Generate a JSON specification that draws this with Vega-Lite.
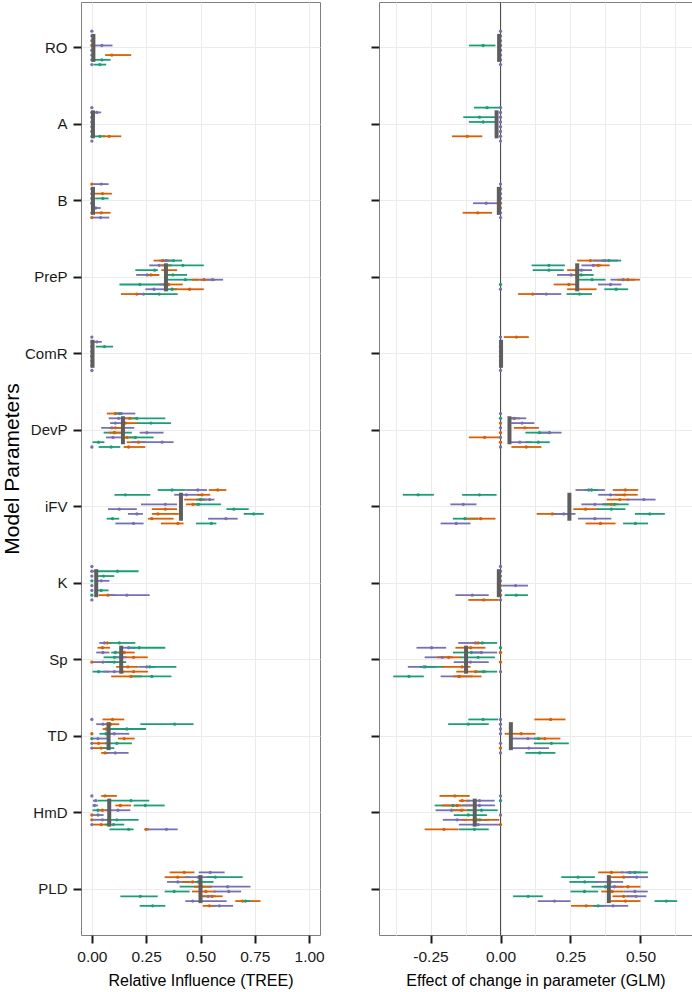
{
"$schema": "https://vega.github.io/schema/vega-lite/v6.json",
"background": "white",
"padding": {"left": 0, "top": 1, "right": 0, "bottom": 0},
"bounds": "flush",
"spacing": 59,
"config": {
 "font": "Liberation Sans",
 "view": {"stroke": "#7f7f7f", "strokeWidth": 1},
 "axis": {"labelFont": "Liberation Sans", "titleFont": "Liberation Sans", "labelFontSize": 15.5, "titleFontSize": 16, "titleFontWeight": "normal", "labelColor": "#1a1a1a", "titleColor": "#000000", "tickColor": "#1a1a1a", "tickWidth": 2, "tickSize": 8, "domain": false, "gridColor": "#ebebeb", "gridWidth": 1, "labelOverlap": false}
},
"datasets": {
"tree": [
{"param":"RO","rep":1,"grp":"P","est":0,"lo":0,"hi":0},
{"param":"RO","rep":2,"grp":"P","est":0,"lo":0,"hi":0},
{"param":"RO","rep":3,"grp":"P","est":0,"lo":0,"hi":0},
{"param":"RO","rep":4,"grp":"O","est":0,"lo":0,"hi":0},
{"param":"RO","rep":4,"grp":"P","est":0.046,"lo":0,"hi":0.095},
{"param":"RO","rep":5,"grp":"P","est":0,"lo":0,"hi":0},
{"param":"RO","rep":6,"grp":"O","est":0.092,"lo":0.061,"hi":0.181},
{"param":"RO","rep":6,"grp":"P","est":0,"lo":0,"hi":0},
{"param":"RO","rep":7,"grp":"G","est":0.046,"lo":0.003,"hi":0.086},
{"param":"RO","rep":7,"grp":"P","est":0,"lo":0,"hi":0},
{"param":"RO","rep":8,"grp":"G","est":0.037,"lo":0.008,"hi":0.066},
{"param":"RO","rep":8,"grp":"P","est":0,"lo":0,"hi":0},
{"param":"A","rep":1,"grp":"P","est":0,"lo":0,"hi":0},
{"param":"A","rep":2,"grp":"O","est":0,"lo":0,"hi":0},
{"param":"A","rep":2,"grp":"P","est":0.023,"lo":0.008,"hi":0.043},
{"param":"A","rep":3,"grp":"P","est":0,"lo":0,"hi":0},
{"param":"A","rep":4,"grp":"P","est":0,"lo":0,"hi":0},
{"param":"A","rep":5,"grp":"P","est":0,"lo":0,"hi":0},
{"param":"A","rep":6,"grp":"P","est":0,"lo":0,"hi":0},
{"param":"A","rep":7,"grp":"G","est":0.037,"lo":0.012,"hi":0.061},
{"param":"A","rep":7,"grp":"O","est":0.08,"lo":0.046,"hi":0.135},
{"param":"A","rep":7,"grp":"P","est":0,"lo":0,"hi":0},
{"param":"A","rep":8,"grp":"P","est":0,"lo":0,"hi":0},
{"param":"B","rep":1,"grp":"O","est":0,"lo":0,"hi":0},
{"param":"B","rep":1,"grp":"P","est":0.043,"lo":0,"hi":0.077},
{"param":"B","rep":2,"grp":"P","est":0,"lo":0,"hi":0},
{"param":"B","rep":3,"grp":"O","est":0.049,"lo":0.008,"hi":0.092},
{"param":"B","rep":3,"grp":"P","est":0,"lo":0,"hi":0},
{"param":"B","rep":4,"grp":"G","est":0.051,"lo":0.015,"hi":0.077},
{"param":"B","rep":4,"grp":"P","est":0,"lo":0,"hi":0},
{"param":"B","rep":5,"grp":"P","est":0,"lo":0,"hi":0},
{"param":"B","rep":6,"grp":"P","est":0.018,"lo":0.003,"hi":0.041},
{"param":"B","rep":7,"grp":"O","est":0.043,"lo":0.008,"hi":0.086},
{"param":"B","rep":7,"grp":"P","est":0,"lo":0,"hi":0},
{"param":"B","rep":8,"grp":"O","est":0,"lo":0,"hi":0},
{"param":"B","rep":8,"grp":"P","est":0.04,"lo":0.003,"hi":0.08},
{"param":"PreP","rep":1,"grp":"O","est":0.326,"lo":0.284,"hi":0.353},
{"param":"PreP","rep":1,"grp":"P","est":0.341,"lo":0.31,"hi":0.369},
{"param":"PreP","rep":1,"grp":"G","est":0.376,"lo":0.341,"hi":0.415},
{"param":"PreP","rep":2,"grp":"P","est":0.31,"lo":0.264,"hi":0.369},
{"param":"PreP","rep":2,"grp":"O","est":0.341,"lo":0.32,"hi":0.36},
{"param":"PreP","rep":2,"grp":"G","est":0.419,"lo":0.353,"hi":0.515},
{"param":"PreP","rep":3,"grp":"G","est":0.289,"lo":0.2,"hi":0.304},
{"param":"PreP","rep":3,"grp":"O","est":0.341,"lo":0.32,"hi":0.392},
{"param":"PreP","rep":4,"grp":"P","est":0.255,"lo":0.204,"hi":0.31},
{"param":"PreP","rep":4,"grp":"O","est":0.272,"lo":0.253,"hi":0.31},
{"param":"PreP","rep":4,"grp":"G","est":0.373,"lo":0.341,"hi":0.438},
{"param":"PreP","rep":5,"grp":"G","est":0.43,"lo":0.346,"hi":0.492},
{"param":"PreP","rep":5,"grp":"O","est":0.516,"lo":0.461,"hi":0.568},
{"param":"PreP","rep":5,"grp":"P","est":0.555,"lo":0.499,"hi":0.604},
{"param":"PreP","rep":6,"grp":"G","est":0.221,"lo":0.127,"hi":0.338},
{"param":"PreP","rep":6,"grp":"P","est":0.335,"lo":0.31,"hi":0.36},
{"param":"PreP","rep":6,"grp":"O","est":0.353,"lo":0.338,"hi":0.418},
{"param":"PreP","rep":7,"grp":"P","est":0.286,"lo":0.246,"hi":0.353},
{"param":"PreP","rep":7,"grp":"G","est":0.369,"lo":0.338,"hi":0.392},
{"param":"PreP","rep":7,"grp":"O","est":0.45,"lo":0.369,"hi":0.515},
{"param":"PreP","rep":8,"grp":"O","est":0.207,"lo":0.134,"hi":0.238},
{"param":"PreP","rep":8,"grp":"P","est":0.238,"lo":0.207,"hi":0.31},
{"param":"PreP","rep":8,"grp":"G","est":0.31,"lo":0.238,"hi":0.395},
{"param":"ComR","rep":1,"grp":"P","est":0,"lo":0,"hi":0},
{"param":"ComR","rep":2,"grp":"O","est":0,"lo":0,"hi":0},
{"param":"ComR","rep":2,"grp":"P","est":0.023,"lo":0.005,"hi":0.046},
{"param":"ComR","rep":3,"grp":"G","est":0.058,"lo":0.018,"hi":0.097},
{"param":"ComR","rep":3,"grp":"P","est":0,"lo":0,"hi":0},
{"param":"ComR","rep":4,"grp":"P","est":0,"lo":0,"hi":0},
{"param":"ComR","rep":5,"grp":"P","est":0,"lo":0,"hi":0},
{"param":"ComR","rep":6,"grp":"P","est":0,"lo":0,"hi":0},
{"param":"ComR","rep":7,"grp":"P","est":0,"lo":0,"hi":0},
{"param":"ComR","rep":8,"grp":"P","est":0,"lo":0,"hi":0},
{"param":"DevP","rep":1,"grp":"O","est":0.108,"lo":0.069,"hi":0.123},
{"param":"DevP","rep":1,"grp":"G","est":0.127,"lo":0.108,"hi":0.138},
{"param":"DevP","rep":1,"grp":"P","est":0.135,"lo":0.108,"hi":0.2},
{"param":"DevP","rep":2,"grp":"P","est":0.123,"lo":0.077,"hi":0.17},
{"param":"DevP","rep":2,"grp":"O","est":0.174,"lo":0.154,"hi":0.207},
{"param":"DevP","rep":2,"grp":"G","est":0.207,"lo":0.169,"hi":0.338},
{"param":"DevP","rep":3,"grp":"P","est":0.108,"lo":0.084,"hi":0.161},
{"param":"DevP","rep":3,"grp":"O","est":0.154,"lo":0.138,"hi":0.21},
{"param":"DevP","rep":3,"grp":"G","est":0.272,"lo":0.207,"hi":0.364},
{"param":"DevP","rep":4,"grp":"P","est":0.092,"lo":0.043,"hi":0.195},
{"param":"DevP","rep":4,"grp":"O","est":0.108,"lo":0.08,"hi":0.138},
{"param":"DevP","rep":5,"grp":"G","est":0.103,"lo":0.054,"hi":0.184},
{"param":"DevP","rep":5,"grp":"O","est":0.104,"lo":0.077,"hi":0.146},
{"param":"DevP","rep":5,"grp":"P","est":0.253,"lo":0.22,"hi":0.33},
{"param":"DevP","rep":6,"grp":"P","est":0.097,"lo":0.065,"hi":0.146},
{"param":"DevP","rep":6,"grp":"O","est":0.161,"lo":0.138,"hi":0.207},
{"param":"DevP","rep":6,"grp":"G","est":0.2,"lo":0.16,"hi":0.284},
{"param":"DevP","rep":7,"grp":"G","est":0.031,"lo":0.003,"hi":0.058},
{"param":"DevP","rep":7,"grp":"O","est":0.215,"lo":0.161,"hi":0.25},
{"param":"DevP","rep":7,"grp":"P","est":0.323,"lo":0.184,"hi":0.376},
{"param":"DevP","rep":8,"grp":"P","est":0,"lo":0,"hi":0},
{"param":"DevP","rep":8,"grp":"G","est":0.089,"lo":0.031,"hi":0.131},
{"param":"DevP","rep":8,"grp":"O","est":0.169,"lo":0.146,"hi":0.246},
{"param":"iFV","rep":1,"grp":"G","est":0.369,"lo":0.303,"hi":0.43},
{"param":"iFV","rep":1,"grp":"P","est":0.488,"lo":0.43,"hi":0.53},
{"param":"iFV","rep":1,"grp":"O","est":0.579,"lo":0.538,"hi":0.619},
{"param":"iFV","rep":2,"grp":"G","est":0.154,"lo":0.104,"hi":0.269},
{"param":"iFV","rep":2,"grp":"P","est":0.435,"lo":0.379,"hi":0.507},
{"param":"iFV","rep":2,"grp":"O","est":0.507,"lo":0.484,"hi":0.545},
{"param":"iFV","rep":3,"grp":"O","est":0.5,"lo":0.425,"hi":0.53},
{"param":"iFV","rep":3,"grp":"G","est":0.5,"lo":0.48,"hi":0.52},
{"param":"iFV","rep":3,"grp":"P","est":0.542,"lo":0.5,"hi":0.564},
{"param":"iFV","rep":4,"grp":"P","est":0.338,"lo":0.226,"hi":0.392},
{"param":"iFV","rep":4,"grp":"O","est":0.465,"lo":0.433,"hi":0.5},
{"param":"iFV","rep":4,"grp":"G","est":0.49,"lo":0.461,"hi":0.594},
{"param":"iFV","rep":5,"grp":"P","est":0.126,"lo":0.074,"hi":0.207},
{"param":"iFV","rep":5,"grp":"O","est":0.338,"lo":0.276,"hi":0.392},
{"param":"iFV","rep":5,"grp":"G","est":0.653,"lo":0.619,"hi":0.722},
{"param":"iFV","rep":6,"grp":"P","est":0.207,"lo":0.166,"hi":0.235},
{"param":"iFV","rep":6,"grp":"O","est":0.304,"lo":0.276,"hi":0.4},
{"param":"iFV","rep":6,"grp":"G","est":0.745,"lo":0.699,"hi":0.791},
{"param":"iFV","rep":7,"grp":"G","est":0.095,"lo":0.068,"hi":0.126},
{"param":"iFV","rep":7,"grp":"O","est":0.276,"lo":0.258,"hi":0.376},
{"param":"iFV","rep":7,"grp":"P","est":0.617,"lo":0.535,"hi":0.671},
{"param":"iFV","rep":8,"grp":"P","est":0.192,"lo":0.108,"hi":0.238},
{"param":"iFV","rep":8,"grp":"O","est":0.396,"lo":0.318,"hi":0.422},
{"param":"iFV","rep":8,"grp":"G","est":0.55,"lo":0.479,"hi":0.573},
{"param":"K","rep":1,"grp":"P","est":0,"lo":0,"hi":0},
{"param":"K","rep":2,"grp":"P","est":0,"lo":0,"hi":0},
{"param":"K","rep":2,"grp":"O","est":0.02,"lo":0.005,"hi":0.03},
{"param":"K","rep":2,"grp":"G","est":0.118,"lo":0.023,"hi":0.215},
{"param":"K","rep":3,"grp":"P","est":0,"lo":0,"hi":0},
{"param":"K","rep":3,"grp":"G","est":0.054,"lo":0.018,"hi":0.103},
{"param":"K","rep":4,"grp":"G","est":0,"lo":0,"hi":0},
{"param":"K","rep":4,"grp":"P","est":0.043,"lo":0.018,"hi":0.081},
{"param":"K","rep":5,"grp":"P","est":0,"lo":0,"hi":0},
{"param":"K","rep":6,"grp":"P","est":0,"lo":0,"hi":0},
{"param":"K","rep":6,"grp":"G","est":0.043,"lo":0.018,"hi":0.077},
{"param":"K","rep":7,"grp":"G","est":0,"lo":0,"hi":0},
{"param":"K","rep":7,"grp":"O","est":0.074,"lo":0.031,"hi":0.108},
{"param":"K","rep":7,"grp":"P","est":0.161,"lo":0.074,"hi":0.266},
{"param":"K","rep":8,"grp":"P","est":0,"lo":0,"hi":0},
{"param":"Sp","rep":1,"grp":"P","est":0.058,"lo":0.034,"hi":0.08},
{"param":"Sp","rep":1,"grp":"O","est":0.071,"lo":0.054,"hi":0.09},
{"param":"Sp","rep":1,"grp":"G","est":0.126,"lo":0.069,"hi":0.2},
{"param":"Sp","rep":2,"grp":"O","est":0.049,"lo":0.026,"hi":0.084},
{"param":"Sp","rep":2,"grp":"P","est":0.169,"lo":0.138,"hi":0.2},
{"param":"Sp","rep":2,"grp":"G","est":0.218,"lo":0.169,"hi":0.338},
{"param":"Sp","rep":3,"grp":"P","est":0.051,"lo":0.02,"hi":0.081},
{"param":"Sp","rep":3,"grp":"G","est":0.108,"lo":0.089,"hi":0.154},
{"param":"Sp","rep":3,"grp":"O","est":0.149,"lo":0.123,"hi":0.197},
{"param":"Sp","rep":4,"grp":"G","est":0.104,"lo":0.054,"hi":0.154},
{"param":"Sp","rep":4,"grp":"P","est":0.135,"lo":0.108,"hi":0.16},
{"param":"Sp","rep":4,"grp":"O","est":0.192,"lo":0.154,"hi":0.257},
{"param":"Sp","rep":5,"grp":"O","est":0,"lo":0,"hi":0},
{"param":"Sp","rep":5,"grp":"P","est":0.051,"lo":0.003,"hi":0.1},
{"param":"Sp","rep":5,"grp":"G","est":0.103,"lo":0.061,"hi":0.158},
{"param":"Sp","rep":6,"grp":"O","est":0.166,"lo":0.112,"hi":0.215},
{"param":"Sp","rep":6,"grp":"P","est":0.253,"lo":0.215,"hi":0.292},
{"param":"Sp","rep":6,"grp":"G","est":0.266,"lo":0.249,"hi":0.389},
{"param":"Sp","rep":7,"grp":"G","est":0.031,"lo":0.003,"hi":0.08},
{"param":"Sp","rep":7,"grp":"P","est":0.103,"lo":0.054,"hi":0.15},
{"param":"Sp","rep":7,"grp":"O","est":0.192,"lo":0.138,"hi":0.258},
{"param":"Sp","rep":8,"grp":"O","est":0.18,"lo":0.089,"hi":0.23},
{"param":"Sp","rep":8,"grp":"G","est":0.276,"lo":0.184,"hi":0.366},
{"param":"TD","rep":1,"grp":"P","est":0,"lo":0,"hi":0},
{"param":"TD","rep":1,"grp":"O","est":0.095,"lo":0.049,"hi":0.149},
{"param":"TD","rep":2,"grp":"P","est":0.051,"lo":0.02,"hi":0.09},
{"param":"TD","rep":2,"grp":"O","est":0.086,"lo":0.061,"hi":0.126},
{"param":"TD","rep":2,"grp":"G","est":0.381,"lo":0.223,"hi":0.468},
{"param":"TD","rep":3,"grp":"O","est":0.066,"lo":0.05,"hi":0.09},
{"param":"TD","rep":3,"grp":"G","est":0.161,"lo":0.077,"hi":0.249},
{"param":"TD","rep":4,"grp":"O","est":0,"lo":0,"hi":0},
{"param":"TD","rep":4,"grp":"G","est":0.065,"lo":0.035,"hi":0.1},
{"param":"TD","rep":4,"grp":"P","est":0.103,"lo":0.077,"hi":0.172},
{"param":"TD","rep":5,"grp":"G","est":0,"lo":0,"hi":0},
{"param":"TD","rep":5,"grp":"P","est":0.028,"lo":0.003,"hi":0.07},
{"param":"TD","rep":5,"grp":"O","est":0.149,"lo":0.12,"hi":0.197},
{"param":"TD","rep":6,"grp":"P","est":0,"lo":0,"hi":0},
{"param":"TD","rep":6,"grp":"O","est":0.031,"lo":0.003,"hi":0.07},
{"param":"TD","rep":6,"grp":"G","est":0.115,"lo":0.061,"hi":0.184},
{"param":"TD","rep":7,"grp":"P","est":0,"lo":0,"hi":0},
{"param":"TD","rep":7,"grp":"O","est":0.043,"lo":0.003,"hi":0.08},
{"param":"TD","rep":7,"grp":"G","est":0.072,"lo":0.046,"hi":0.103},
{"param":"TD","rep":8,"grp":"O","est":0.061,"lo":0.043,"hi":0.08},
{"param":"TD","rep":8,"grp":"P","est":0.108,"lo":0.061,"hi":0.169},
{"param":"HmD","rep":1,"grp":"P","est":0,"lo":0,"hi":0},
{"param":"HmD","rep":1,"grp":"O","est":0.061,"lo":0.043,"hi":0.115},
{"param":"HmD","rep":2,"grp":"P","est":0.018,"lo":0.005,"hi":0.026},
{"param":"HmD","rep":2,"grp":"G","est":0.18,"lo":0.028,"hi":0.264},
{"param":"HmD","rep":3,"grp":"P","est":0.012,"lo":0.003,"hi":0.028},
{"param":"HmD","rep":3,"grp":"O","est":0.131,"lo":0.108,"hi":0.18},
{"param":"HmD","rep":3,"grp":"G","est":0.246,"lo":0.192,"hi":0.335},
{"param":"HmD","rep":4,"grp":"G","est":0.028,"lo":0.003,"hi":0.05},
{"param":"HmD","rep":4,"grp":"O","est":0.049,"lo":0.03,"hi":0.08},
{"param":"HmD","rep":4,"grp":"P","est":0.12,"lo":0.061,"hi":0.177},
{"param":"HmD","rep":5,"grp":"O","est":0,"lo":0,"hi":0},
{"param":"HmD","rep":5,"grp":"P","est":0.028,"lo":0.003,"hi":0.054},
{"param":"HmD","rep":6,"grp":"O","est":0,"lo":0,"hi":0},
{"param":"HmD","rep":6,"grp":"P","est":0.049,"lo":0.003,"hi":0.08},
{"param":"HmD","rep":6,"grp":"G","est":0.115,"lo":0.061,"hi":0.215},
{"param":"HmD","rep":7,"grp":"P","est":0,"lo":0,"hi":0},
{"param":"HmD","rep":7,"grp":"O","est":0.043,"lo":0.003,"hi":0.077},
{"param":"HmD","rep":7,"grp":"G","est":0.1,"lo":0.061,"hi":0.149},
{"param":"HmD","rep":8,"grp":"G","est":0.169,"lo":0.081,"hi":0.192},
{"param":"HmD","rep":8,"grp":"O","est":0.249,"lo":0.246,"hi":0.265},
{"param":"HmD","rep":8,"grp":"P","est":0.343,"lo":0.249,"hi":0.395},
{"param":"PLD","rep":1,"grp":"O","est":0.425,"lo":0.358,"hi":0.472},
{"param":"PLD","rep":1,"grp":"P","est":0.545,"lo":0.492,"hi":0.611},
{"param":"PLD","rep":2,"grp":"O","est":0.395,"lo":0.335,"hi":0.45},
{"param":"PLD","rep":2,"grp":"P","est":0.49,"lo":0.43,"hi":0.56},
{"param":"PLD","rep":2,"grp":"G","est":0.568,"lo":0.53,"hi":0.694},
{"param":"PLD","rep":3,"grp":"P","est":0.396,"lo":0.346,"hi":0.45},
{"param":"PLD","rep":3,"grp":"O","est":0.464,"lo":0.415,"hi":0.5},
{"param":"PLD","rep":3,"grp":"G","est":0.49,"lo":0.475,"hi":0.56},
{"param":"PLD","rep":4,"grp":"G","est":0.5,"lo":0.404,"hi":0.55},
{"param":"PLD","rep":4,"grp":"O","est":0.504,"lo":0.47,"hi":0.55},
{"param":"PLD","rep":4,"grp":"P","est":0.625,"lo":0.545,"hi":0.73},
{"param":"PLD","rep":5,"grp":"G","est":0.379,"lo":0.335,"hi":0.45},
{"param":"PLD","rep":5,"grp":"O","est":0.525,"lo":0.461,"hi":0.57},
{"param":"PLD","rep":5,"grp":"P","est":0.63,"lo":0.56,"hi":0.687},
{"param":"PLD","rep":6,"grp":"G","est":0.223,"lo":0.131,"hi":0.303},
{"param":"PLD","rep":6,"grp":"P","est":0.535,"lo":0.492,"hi":0.57},
{"param":"PLD","rep":6,"grp":"O","est":0.553,"lo":0.5,"hi":0.602},
{"param":"PLD","rep":7,"grp":"P","est":0.464,"lo":0.43,"hi":0.62},
{"param":"PLD","rep":7,"grp":"O","est":0.694,"lo":0.66,"hi":0.776},
{"param":"PLD","rep":7,"grp":"G","est":0.707,"lo":0.69,"hi":0.73},
{"param":"PLD","rep":8,"grp":"G","est":0.28,"lo":0.22,"hi":0.338},
{"param":"PLD","rep":8,"grp":"O","est":0.541,"lo":0.51,"hi":0.57},
{"param":"PLD","rep":8,"grp":"P","est":0.587,"lo":0.55,"hi":0.65}
],
"glm": [
{"param":"RO","rep":1,"grp":"P","est":0,"lo":0,"hi":0},
{"param":"RO","rep":2,"grp":"P","est":0,"lo":0,"hi":0},
{"param":"RO","rep":3,"grp":"P","est":0,"lo":0,"hi":0},
{"param":"RO","rep":4,"grp":"G","est":-0.062,"lo":-0.113,"hi":-0.018},
{"param":"RO","rep":4,"grp":"P","est":0,"lo":0,"hi":0},
{"param":"RO","rep":5,"grp":"P","est":0,"lo":0,"hi":0},
{"param":"RO","rep":6,"grp":"P","est":0,"lo":0,"hi":0},
{"param":"RO","rep":7,"grp":"P","est":0,"lo":0,"hi":0},
{"param":"RO","rep":8,"grp":"P","est":0,"lo":0,"hi":0},
{"param":"A","rep":1,"grp":"G","est":-0.048,"lo":-0.095,"hi":0},
{"param":"A","rep":1,"grp":"P","est":0,"lo":0,"hi":0},
{"param":"A","rep":2,"grp":"P","est":0,"lo":0,"hi":0},
{"param":"A","rep":3,"grp":"G","est":-0.075,"lo":-0.133,"hi":-0.02},
{"param":"A","rep":3,"grp":"P","est":0,"lo":0,"hi":0},
{"param":"A","rep":4,"grp":"G","est":-0.062,"lo":-0.113,"hi":-0.018},
{"param":"A","rep":4,"grp":"P","est":0,"lo":0,"hi":0},
{"param":"A","rep":5,"grp":"P","est":0,"lo":0,"hi":0},
{"param":"A","rep":6,"grp":"P","est":0,"lo":0,"hi":0},
{"param":"A","rep":7,"grp":"O","est":-0.119,"lo":-0.173,"hi":-0.065},
{"param":"A","rep":7,"grp":"P","est":0,"lo":0,"hi":0},
{"param":"A","rep":8,"grp":"P","est":0,"lo":0,"hi":0},
{"param":"B","rep":1,"grp":"P","est":0,"lo":0,"hi":0},
{"param":"B","rep":2,"grp":"P","est":0,"lo":0,"hi":0},
{"param":"B","rep":3,"grp":"P","est":0,"lo":0,"hi":0},
{"param":"B","rep":4,"grp":"P","est":0,"lo":0,"hi":0},
{"param":"B","rep":5,"grp":"O","est":0,"lo":0,"hi":0},
{"param":"B","rep":5,"grp":"P","est":-0.051,"lo":-0.098,"hi":-0.01},
{"param":"B","rep":6,"grp":"P","est":0,"lo":0,"hi":0},
{"param":"B","rep":7,"grp":"O","est":-0.081,"lo":-0.135,"hi":-0.03},
{"param":"B","rep":7,"grp":"P","est":0,"lo":0,"hi":0},
{"param":"B","rep":8,"grp":"P","est":0,"lo":0,"hi":0},
{"param":"PreP","rep":1,"grp":"O","est":0.321,"lo":0.274,"hi":0.37},
{"param":"PreP","rep":1,"grp":"P","est":0.373,"lo":0.33,"hi":0.42},
{"param":"PreP","rep":1,"grp":"G","est":0.387,"lo":0.36,"hi":0.431},
{"param":"PreP","rep":2,"grp":"G","est":0.173,"lo":0.111,"hi":0.23},
{"param":"PreP","rep":2,"grp":"P","est":0.331,"lo":0.289,"hi":0.36},
{"param":"PreP","rep":2,"grp":"O","est":0.349,"lo":0.327,"hi":0.39},
{"param":"PreP","rep":3,"grp":"G","est":0.173,"lo":0.115,"hi":0.226},
{"param":"PreP","rep":3,"grp":"O","est":0.27,"lo":0.238,"hi":0.3},
{"param":"PreP","rep":3,"grp":"P","est":0.289,"lo":0.268,"hi":0.327},
{"param":"PreP","rep":4,"grp":"P","est":0.252,"lo":0.202,"hi":0.29},
{"param":"PreP","rep":4,"grp":"O","est":0.274,"lo":0.26,"hi":0.3},
{"param":"PreP","rep":4,"grp":"G","est":0.288,"lo":0.268,"hi":0.333},
{"param":"PreP","rep":5,"grp":"G","est":0.327,"lo":0.274,"hi":0.375},
{"param":"PreP","rep":5,"grp":"P","est":0.438,"lo":0.393,"hi":0.48},
{"param":"PreP","rep":5,"grp":"O","est":0.455,"lo":0.417,"hi":0.498},
{"param":"PreP","rep":6,"grp":"G","est":0,"lo":0,"hi":0},
{"param":"PreP","rep":6,"grp":"O","est":0.244,"lo":0.19,"hi":0.28},
{"param":"PreP","rep":6,"grp":"P","est":0.393,"lo":0.348,"hi":0.432},
{"param":"PreP","rep":7,"grp":"P","est":0,"lo":0,"hi":0},
{"param":"PreP","rep":7,"grp":"O","est":0.274,"lo":0.238,"hi":0.343},
{"param":"PreP","rep":7,"grp":"G","est":0.413,"lo":0.371,"hi":0.456},
{"param":"PreP","rep":8,"grp":"O","est":0.115,"lo":0.063,"hi":0.16},
{"param":"PreP","rep":8,"grp":"P","est":0.163,"lo":0.115,"hi":0.217},
{"param":"PreP","rep":8,"grp":"G","est":0.282,"lo":0.236,"hi":0.327},
{"param":"ComR","rep":1,"grp":"P","est":0,"lo":0,"hi":0},
{"param":"ComR","rep":1,"grp":"O","est":0.057,"lo":0.012,"hi":0.101},
{"param":"ComR","rep":2,"grp":"P","est":0,"lo":0,"hi":0},
{"param":"ComR","rep":3,"grp":"P","est":0,"lo":0,"hi":0},
{"param":"ComR","rep":4,"grp":"P","est":0,"lo":0,"hi":0},
{"param":"ComR","rep":5,"grp":"P","est":0,"lo":0,"hi":0},
{"param":"ComR","rep":6,"grp":"P","est":0,"lo":0,"hi":0},
{"param":"ComR","rep":7,"grp":"P","est":0,"lo":0,"hi":0},
{"param":"ComR","rep":8,"grp":"P","est":0,"lo":0,"hi":0},
{"param":"DevP","rep":1,"grp":"P","est":0,"lo":0,"hi":0},
{"param":"DevP","rep":2,"grp":"G","est":0,"lo":0,"hi":0},
{"param":"DevP","rep":2,"grp":"O","est":0.048,"lo":0.03,"hi":0.07},
{"param":"DevP","rep":2,"grp":"P","est":0.05,"lo":0.035,"hi":0.092},
{"param":"DevP","rep":3,"grp":"O","est":0,"lo":0,"hi":0},
{"param":"DevP","rep":3,"grp":"P","est":0.077,"lo":0.038,"hi":0.121},
{"param":"DevP","rep":4,"grp":"P","est":0,"lo":0,"hi":0},
{"param":"DevP","rep":4,"grp":"O","est":0.087,"lo":0.048,"hi":0.137},
{"param":"DevP","rep":5,"grp":"O","est":0,"lo":0,"hi":0},
{"param":"DevP","rep":5,"grp":"G","est":0.139,"lo":0.089,"hi":0.18},
{"param":"DevP","rep":5,"grp":"P","est":0.175,"lo":0.14,"hi":0.218},
{"param":"DevP","rep":6,"grp":"O","est":-0.057,"lo":-0.113,"hi":0},
{"param":"DevP","rep":6,"grp":"P","est":0,"lo":0,"hi":0},
{"param":"DevP","rep":7,"grp":"O","est":0,"lo":0,"hi":0},
{"param":"DevP","rep":7,"grp":"P","est":0.069,"lo":0.027,"hi":0.11},
{"param":"DevP","rep":7,"grp":"G","est":0.135,"lo":0.089,"hi":0.176},
{"param":"DevP","rep":8,"grp":"P","est":0,"lo":0,"hi":0},
{"param":"DevP","rep":8,"grp":"O","est":0.092,"lo":0.039,"hi":0.146},
{"param":"iFV","rep":1,"grp":"P","est":0.315,"lo":0.268,"hi":0.373},
{"param":"iFV","rep":1,"grp":"G","est":0.325,"lo":0.3,"hi":0.35},
{"param":"iFV","rep":1,"grp":"O","est":0.446,"lo":0.401,"hi":0.492},
{"param":"iFV","rep":2,"grp":"G","est":-0.294,"lo":-0.349,"hi":-0.238},
{"param":"iFV","rep":2,"grp":"G","est":-0.075,"lo":-0.137,"hi":-0.014},
{"param":"iFV","rep":2,"grp":"P","est":0.393,"lo":0.349,"hi":0.44},
{"param":"iFV","rep":2,"grp":"O","est":0.443,"lo":0.41,"hi":0.49},
{"param":"iFV","rep":3,"grp":"O","est":0.426,"lo":0.379,"hi":0.46},
{"param":"iFV","rep":3,"grp":"P","est":0.512,"lo":0.45,"hi":0.554},
{"param":"iFV","rep":4,"grp":"P","est":-0.133,"lo":-0.179,"hi":-0.086},
{"param":"iFV","rep":4,"grp":"P","est":0.337,"lo":0.289,"hi":0.39},
{"param":"iFV","rep":4,"grp":"O","est":0.396,"lo":0.37,"hi":0.42},
{"param":"iFV","rep":4,"grp":"G","est":0.407,"lo":0.363,"hi":0.458},
{"param":"iFV","rep":5,"grp":"O","est":0.304,"lo":0.26,"hi":0.35},
{"param":"iFV","rep":5,"grp":"G","est":0.396,"lo":0.345,"hi":0.446},
{"param":"iFV","rep":6,"grp":"O","est":0.185,"lo":0.129,"hi":0.24},
{"param":"iFV","rep":6,"grp":"P","est":0.226,"lo":0.19,"hi":0.268},
{"param":"iFV","rep":6,"grp":"G","est":0.533,"lo":0.48,"hi":0.587},
{"param":"iFV","rep":7,"grp":"G","est":-0.127,"lo":-0.17,"hi":-0.08},
{"param":"iFV","rep":7,"grp":"O","est":-0.071,"lo":-0.125,"hi":-0.018},
{"param":"iFV","rep":7,"grp":"P","est":0.337,"lo":0.277,"hi":0.396},
{"param":"iFV","rep":8,"grp":"P","est":-0.158,"lo":-0.214,"hi":-0.107},
{"param":"iFV","rep":8,"grp":"O","est":0.357,"lo":0.304,"hi":0.411},
{"param":"iFV","rep":8,"grp":"G","est":0.482,"lo":0.438,"hi":0.527},
{"param":"K","rep":1,"grp":"P","est":0,"lo":0,"hi":0},
{"param":"K","rep":2,"grp":"P","est":0,"lo":0,"hi":0},
{"param":"K","rep":3,"grp":"P","est":0,"lo":0,"hi":0},
{"param":"K","rep":4,"grp":"P","est":0,"lo":0,"hi":0},
{"param":"K","rep":5,"grp":"O","est":0,"lo":0,"hi":0},
{"param":"K","rep":5,"grp":"P","est":0.054,"lo":0.006,"hi":0.098},
{"param":"K","rep":6,"grp":"P","est":0,"lo":0,"hi":0},
{"param":"K","rep":7,"grp":"P","est":-0.101,"lo":-0.161,"hi":-0.042},
{"param":"K","rep":7,"grp":"O","est":0,"lo":0,"hi":0},
{"param":"K","rep":7,"grp":"G","est":0.056,"lo":0.015,"hi":0.098},
{"param":"K","rep":8,"grp":"O","est":-0.06,"lo":-0.115,"hi":-0.006},
{"param":"K","rep":8,"grp":"P","est":0,"lo":0,"hi":0},
{"param":"Sp","rep":1,"grp":"P","est":-0.089,"lo":-0.151,"hi":-0.06},
{"param":"Sp","rep":1,"grp":"O","est":-0.08,"lo":-0.1,"hi":-0.06},
{"param":"Sp","rep":1,"grp":"G","est":-0.065,"lo":-0.08,"hi":-0.012},
{"param":"Sp","rep":2,"grp":"P","est":-0.246,"lo":-0.3,"hi":-0.194},
{"param":"Sp","rep":2,"grp":"O","est":-0.107,"lo":-0.161,"hi":-0.054},
{"param":"Sp","rep":2,"grp":"G","est":0,"lo":0,"hi":0},
{"param":"Sp","rep":3,"grp":"G","est":-0.104,"lo":-0.17,"hi":-0.07},
{"param":"Sp","rep":3,"grp":"P","est":-0.068,"lo":-0.1,"hi":-0.012},
{"param":"Sp","rep":3,"grp":"O","est":0,"lo":0,"hi":0},
{"param":"Sp","rep":4,"grp":"P","est":-0.208,"lo":-0.271,"hi":-0.17},
{"param":"Sp","rep":4,"grp":"O","est":-0.185,"lo":-0.226,"hi":-0.14},
{"param":"Sp","rep":4,"grp":"G","est":-0.08,"lo":-0.143,"hi":-0.02},
{"param":"Sp","rep":5,"grp":"P","est":-0.107,"lo":-0.167,"hi":-0.042},
{"param":"Sp","rep":5,"grp":"O","est":0,"lo":0,"hi":0},
{"param":"Sp","rep":6,"grp":"P","est":-0.274,"lo":-0.331,"hi":-0.23},
{"param":"Sp","rep":6,"grp":"G","est":-0.268,"lo":-0.29,"hi":-0.2},
{"param":"Sp","rep":6,"grp":"O","est":-0.137,"lo":-0.208,"hi":-0.107},
{"param":"Sp","rep":7,"grp":"O","est":-0.089,"lo":-0.158,"hi":-0.05},
{"param":"Sp","rep":7,"grp":"G","est":-0.06,"lo":-0.089,"hi":-0.012},
{"param":"Sp","rep":7,"grp":"P","est":0,"lo":0,"hi":0},
{"param":"Sp","rep":8,"grp":"G","est":-0.327,"lo":-0.383,"hi":-0.274},
{"param":"Sp","rep":8,"grp":"P","est":-0.149,"lo":-0.214,"hi":-0.1},
{"param":"Sp","rep":8,"grp":"O","est":-0.146,"lo":-0.17,"hi":-0.068},
{"param":"TD","rep":1,"grp":"G","est":-0.062,"lo":-0.115,"hi":-0.008},
{"param":"TD","rep":1,"grp":"P","est":0,"lo":0,"hi":0},
{"param":"TD","rep":1,"grp":"O","est":0.179,"lo":0.121,"hi":0.232},
{"param":"TD","rep":2,"grp":"G","est":-0.115,"lo":-0.187,"hi":-0.042},
{"param":"TD","rep":2,"grp":"P","est":0,"lo":0,"hi":0},
{"param":"TD","rep":3,"grp":"P","est":0,"lo":0,"hi":0},
{"param":"TD","rep":4,"grp":"P","est":0,"lo":0,"hi":0},
{"param":"TD","rep":4,"grp":"O","est":0.074,"lo":0.015,"hi":0.125},
{"param":"TD","rep":5,"grp":"P","est":0.098,"lo":0.039,"hi":0.13},
{"param":"TD","rep":5,"grp":"G","est":0.135,"lo":0.12,"hi":0.15},
{"param":"TD","rep":5,"grp":"O","est":0.158,"lo":0.137,"hi":0.214},
{"param":"TD","rep":6,"grp":"P","est":0,"lo":0,"hi":0},
{"param":"TD","rep":6,"grp":"G","est":0.182,"lo":0.119,"hi":0.244},
{"param":"TD","rep":7,"grp":"O","est":0,"lo":0,"hi":0},
{"param":"TD","rep":7,"grp":"P","est":0.101,"lo":0.039,"hi":0.173},
{"param":"TD","rep":8,"grp":"P","est":0,"lo":0,"hi":0},
{"param":"TD","rep":8,"grp":"G","est":0.14,"lo":0.089,"hi":0.196},
{"param":"HmD","rep":1,"grp":"O","est":-0.163,"lo":-0.218,"hi":-0.11},
{"param":"HmD","rep":1,"grp":"P","est":0,"lo":0,"hi":0},
{"param":"HmD","rep":2,"grp":"O","est":-0.137,"lo":-0.149,"hi":-0.11},
{"param":"HmD","rep":2,"grp":"P","est":-0.075,"lo":-0.12,"hi":-0.021},
{"param":"HmD","rep":2,"grp":"G","est":0,"lo":0,"hi":0},
{"param":"HmD","rep":3,"grp":"G","est":-0.17,"lo":-0.235,"hi":-0.14},
{"param":"HmD","rep":3,"grp":"O","est":-0.155,"lo":-0.21,"hi":-0.1},
{"param":"HmD","rep":3,"grp":"P","est":-0.075,"lo":-0.137,"hi":-0.02},
{"param":"HmD","rep":4,"grp":"P","est":-0.175,"lo":-0.232,"hi":-0.13},
{"param":"HmD","rep":4,"grp":"O","est":-0.139,"lo":-0.17,"hi":-0.1},
{"param":"HmD","rep":4,"grp":"G","est":-0.068,"lo":-0.12,"hi":-0.01},
{"param":"HmD","rep":5,"grp":"G","est":-0.115,"lo":-0.167,"hi":-0.048},
{"param":"HmD","rep":5,"grp":"P","est":0,"lo":0,"hi":0},
{"param":"HmD","rep":6,"grp":"P","est":-0.155,"lo":-0.206,"hi":-0.12},
{"param":"HmD","rep":6,"grp":"G","est":-0.074,"lo":-0.1,"hi":-0.04},
{"param":"HmD","rep":6,"grp":"O","est":-0.083,"lo":-0.14,"hi":-0.004},
{"param":"HmD","rep":7,"grp":"P","est":-0.08,"lo":-0.149,"hi":0},
{"param":"HmD","rep":7,"grp":"O","est":0,"lo":0,"hi":0},
{"param":"HmD","rep":8,"grp":"O","est":-0.202,"lo":-0.271,"hi":-0.15},
{"param":"HmD","rep":8,"grp":"G","est":-0.093,"lo":-0.149,"hi":-0.042},
{"param":"PLD","rep":1,"grp":"O","est":0.396,"lo":0.349,"hi":0.44},
{"param":"PLD","rep":1,"grp":"P","est":0.462,"lo":0.43,"hi":0.5},
{"param":"PLD","rep":1,"grp":"G","est":0.48,"lo":0.45,"hi":0.526},
{"param":"PLD","rep":2,"grp":"G","est":0.277,"lo":0.217,"hi":0.337},
{"param":"PLD","rep":2,"grp":"O","est":0.44,"lo":0.393,"hi":0.48},
{"param":"PLD","rep":2,"grp":"P","est":0.486,"lo":0.446,"hi":0.527},
{"param":"PLD","rep":3,"grp":"G","est":0.301,"lo":0.246,"hi":0.35},
{"param":"PLD","rep":3,"grp":"P","est":0.393,"lo":0.339,"hi":0.438},
{"param":"PLD","rep":4,"grp":"G","est":0.375,"lo":0.325,"hi":0.41},
{"param":"PLD","rep":4,"grp":"P","est":0.407,"lo":0.39,"hi":0.44},
{"param":"PLD","rep":4,"grp":"O","est":0.455,"lo":0.411,"hi":0.5},
{"param":"PLD","rep":5,"grp":"G","est":0.3,"lo":0.25,"hi":0.349},
{"param":"PLD","rep":5,"grp":"O","est":0.399,"lo":0.36,"hi":0.44},
{"param":"PLD","rep":5,"grp":"P","est":0.48,"lo":0.44,"hi":0.526},
{"param":"PLD","rep":6,"grp":"G","est":0.099,"lo":0.045,"hi":0.151},
{"param":"PLD","rep":6,"grp":"O","est":0.44,"lo":0.4,"hi":0.48},
{"param":"PLD","rep":6,"grp":"P","est":0.485,"lo":0.45,"hi":0.521},
{"param":"PLD","rep":7,"grp":"P","est":0.193,"lo":0.133,"hi":0.25},
{"param":"PLD","rep":7,"grp":"O","est":0.446,"lo":0.393,"hi":0.5},
{"param":"PLD","rep":7,"grp":"G","est":0.592,"lo":0.55,"hi":0.631},
{"param":"PLD","rep":8,"grp":"O","est":0.306,"lo":0.252,"hi":0.35},
{"param":"PLD","rep":8,"grp":"G","est":0.349,"lo":0.33,"hi":0.37},
{"param":"PLD","rep":8,"grp":"P","est":0.402,"lo":0.351,"hi":0.456}
],
"treeMed": [
{"param":"RO","med":0.007},{"param":"A","med":0.005},{"param":"B","med":0.005},{"param":"PreP","med":0.341},{"param":"ComR","med":0.003},{"param":"DevP","med":0.143},{"param":"iFV","med":0.41},{"param":"K","med":0.02},{"param":"Sp","med":0.135},{"param":"TD","med":0.077},{"param":"HmD","med":0.08},{"param":"PLD","med":0.5}
],
"glmMed": [
{"param":"RO","med":-0.005},{"param":"A","med":-0.014},{"param":"B","med":-0.006},{"param":"PreP","med":0.274},{"param":"ComR","med":0.002},{"param":"DevP","med":0.032},{"param":"iFV","med":0.246},{"param":"K","med":-0.006},{"param":"Sp","med":-0.123},{"param":"TD","med":0.037},{"param":"HmD","med":-0.092},{"param":"PLD","med":0.387}
]
},
"hconcat": [
{
 "width": 239, "height": 933,
 "layer": [
  {"data": {"name": "tree"}, "mark": {"type": "rule", "strokeWidth": 1.8},
   "encoding": {
    "y": {"field": "param", "type": "nominal", "sort": ["RO","A","B","PreP","ComR","DevP","iFV","K","Sp","TD","HmD","PLD"], "scale": {"paddingInner": 0.5, "paddingOuter": 0.35}, "axis": {"title": "Model Parameters", "titleFontSize": 21, "titlePadding": 2, "labelPadding": 6, "labelFontSize": 15, "bandPosition": 0.5, "grid": true}},
    "yOffset": {"field": "rep", "type": "ordinal", "scale": {"paddingInner": 0, "paddingOuter": 0}},
    "x": {"field": "lo", "type": "quantitative", "scale": {"domain": [-0.05, 1.05], "nice": false, "zero": false}, "axis": {"title": "Relative Influence (TREE)", "values": [0,0.125,0.25,0.375,0.5,0.625,0.75,0.875,1], "labelExpr": "(datum.value*8) % 2 != 0 ? '' : format(datum.value, '.2f')", "tickOpacity": {"condition": {"test": "(datum.value*8) % 2 != 0", "value": 0}, "value": 1}, "labelPadding": 6, "titlePadding": 8}},
    "x2": {"field": "hi"},
    "color": {"field": "grp", "type": "nominal", "scale": {"domain": ["G","O","P"], "range": ["#1B9E77","#D95F02","#7570B3"]}, "legend": null}
   }},
  {"data": {"name": "tree"}, "mark": {"type": "point", "filled": true, "size": 11, "opacity": 1},
   "encoding": {
    "y": {"field": "param", "type": "nominal", "sort": ["RO","A","B","PreP","ComR","DevP","iFV","K","Sp","TD","HmD","PLD"]},
    "yOffset": {"field": "rep", "type": "ordinal"},
    "x": {"field": "est", "type": "quantitative"},
    "color": {"field": "grp", "type": "nominal", "legend": null}
   }},
  {"data": {"name": "treeMed"}, "mark": {"type": "tick", "thickness": 4, "size": 28, "color": "#5e5e5e", "opacity": 1},
   "encoding": {
    "y": {"field": "param", "type": "nominal", "sort": ["RO","A","B","PreP","ComR","DevP","iFV","K","Sp","TD","HmD","PLD"]},
    "x": {"field": "med", "type": "quantitative"}
   }}
 ]
},
{
 "width": 313, "height": 933,
 "resolve": {"axis": {"x": "independent"}},
 "layer": [
  {"data": {"name": "glm"}, "mark": {"type": "rule", "strokeWidth": 1.8},
   "encoding": {
    "y": {"field": "param", "type": "nominal", "sort": ["RO","A","B","PreP","ComR","DevP","iFV","K","Sp","TD","HmD","PLD"], "scale": {"paddingInner": 0.5, "paddingOuter": 0.35}, "axis": {"title": null, "labels": false, "bandPosition": 0.5, "grid": true}},
    "yOffset": {"field": "rep", "type": "ordinal", "scale": {"paddingInner": 0, "paddingOuter": 0}},
    "x": {"field": "lo", "type": "quantitative", "scale": {"domain": [-0.434, 0.684], "nice": false, "zero": false}, "axis": {"orient": "bottom", "title": "Effect of change in parameter (GLM)", "values": [-0.25, 0, 0.25, 0.5], "labelExpr": "datum.value < 0 ? '-' + format(-datum.value, '.2f') : format(datum.value, '.2f')", "labelPadding": 6, "titlePadding": 8}},
    "x2": {"field": "hi"},
    "color": {"field": "grp", "type": "nominal", "scale": {"domain": ["G","O","P"], "range": ["#1B9E77","#D95F02","#7570B3"]}, "legend": null}
   }},
  {"data": {"name": "glmMed"}, "mark": {"type": "rule", "color": "#4d4d4d", "strokeWidth": 1},
   "encoding": {"x": {"datum": 0, "type": "quantitative", "axis": {"orient": "bottom", "values": [-0.375, -0.125, 0.125, 0.375, 0.625], "labels": false, "ticks": false, "title": null, "grid": true, "domain": false}}}},
  {"data": {"name": "glm"}, "mark": {"type": "point", "filled": true, "size": 11, "opacity": 1},
   "encoding": {
    "y": {"field": "param", "type": "nominal", "sort": ["RO","A","B","PreP","ComR","DevP","iFV","K","Sp","TD","HmD","PLD"]},
    "yOffset": {"field": "rep", "type": "ordinal"},
    "x": {"field": "est", "type": "quantitative", "axis": null},
    "color": {"field": "grp", "type": "nominal", "legend": null}
   }},
  {"data": {"name": "glmMed"}, "mark": {"type": "tick", "thickness": 4, "size": 28, "color": "#5e5e5e", "opacity": 1},
   "encoding": {
    "y": {"field": "param", "type": "nominal", "sort": ["RO","A","B","PreP","ComR","DevP","iFV","K","Sp","TD","HmD","PLD"]},
    "x": {"field": "med", "type": "quantitative", "axis": null}
   }}
 ]
}
]
}
